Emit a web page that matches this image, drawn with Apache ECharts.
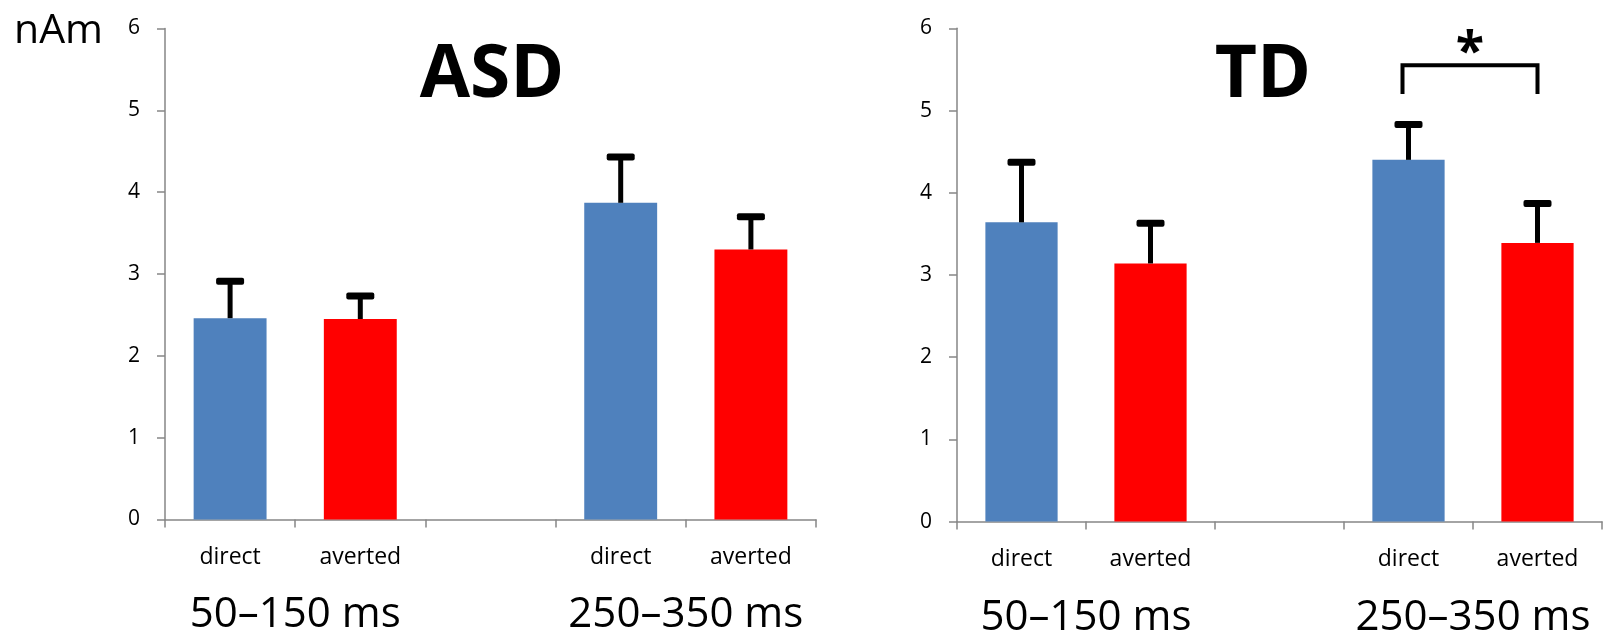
<!DOCTYPE html>
<html>
<head>
<meta charset="utf-8">
<script src="https://cdn.jsdelivr.net/npm/echarts@6/dist/echarts.min.js"></script>
<style>
html,body{margin:0;padding:0;background:#fff;}
#main{width:1604px;height:634px;}
</style>
</head>
<body>
<div id="main"></div>
<script>
// ---- data ----
var categories = ['direct', 'averted', '', 'direct', 'averted'];
var groupLabels = ['50–150 ms', '250–350 ms'];
var groupSpans = [[0, 1], [3, 4]];
var yTicks = [0, 1, 2, 3, 4, 5, 6];
var asdMeans = [2.46, 2.45, null, 3.87, 3.30];
var asdErrors = [0.45, 0.28, null, 0.56, 0.40];
var tdMeans = [3.64, 3.14, null, 4.40, 3.39];
var tdErrors = [0.73, 0.49, null, 0.43, 0.48];
var panelTitles = ['ASD', 'TD'];
var sigPair = [3, 4];        // categories compared in TD panel
var sigLevels = [5.2, 5.55]; // bracket bottom / top (nAm)
var sigMark = ['*'];
var unitLabel = 'nAm';

var colorFor = {direct: '#4F81BD', averted: '#FF0000'};
var FONT = '"Open Sans", "Liberation Sans", sans-serif';

var chart = echarts.init(document.getElementById('main'), null, {renderer: 'canvas'});

function barData(means) {
  return means.map(function (v, i) {
    if (v === null) return '-';
    return {value: v, itemStyle: {color: colorFor[categories[i]]}};
  });
}
function errData(means, errs) {
  var out = [];
  means.forEach(function (v, i) {
    if (v !== null) out.push([i, v, v + errs[i]]);
  });
  return out;
}
function errRender(params, api) {
  var base = api.coord([api.value(0), api.value(1)]);
  var top = api.coord([api.value(0), api.value(2)]);
  var capW = 28, capH = 7;
  return {
    type: 'group',
    children: [
      {type: 'line', shape: {x1: base[0], y1: base[1], x2: top[0], y2: top[1]},
       style: {stroke: '#000', lineWidth: 5}},
      {type: 'rect', shape: {x: top[0] - capW / 2, y: top[1] - capH / 2, width: capW, height: capH, r: 2},
       style: {fill: '#000'}}
    ]
  };
}
function groupRender(params, api) {
  var a = api.coord([api.value(0), 0]);
  var b = api.coord([api.value(1), 0]);
  return {
    type: 'text',
    x: (a[0] + b[0]) / 2, y: a[1] + 96,
    style: {text: groupLabels[params.dataIndex], fill: '#000', font: '42px ' + FONT,
            align: 'center', verticalAlign: 'middle'}
  };
}
function bracketRender(params, api) {
  var l = api.coord([api.value(0), api.value(2)]);
  var r = api.coord([api.value(1), api.value(3)]);
  var lx = l[0] - 6, rx = r[0];
  var yLow = l[1], yHigh = r[1];
  return {
    type: 'group',
    children: [
      {type: 'polyline', shape: {points: [[lx, yLow], [lx, yHigh], [rx, yHigh], [rx, yLow]]},
       style: {stroke: '#000', lineWidth: 4, fill: null}},
      {type: 'text', x: (lx + rx) / 2, y: yHigh - 11,
       style: {text: sigMark[0], fill: '#000', font: 'bold 52px ' + FONT, align: 'center', verticalAlign: 'middle'}}
    ]
  };
}

function xAxisCfg(gi) {
  return {
    type: 'category', gridIndex: gi, data: categories,
    axisLine: {lineStyle: {color: '#868686', width: 1.5}},
    axisTick: {show: true, length: 8, interval: 0, lineStyle: {color: '#868686', width: 1.5}},
    axisLabel: {interval: 0, color: '#000', fontSize: 23, fontFamily: FONT, margin: 26}
  };
}
function yAxisCfg(gi) {
  return {
    type: 'value', gridIndex: gi, min: yTicks[0], max: yTicks[yTicks.length - 1], interval: 1,
    axisLine: {show: true, lineStyle: {color: '#868686', width: 1.5}},
    axisTick: {show: true, length: 8, lineStyle: {color: '#868686', width: 1.5}},
    splitLine: {show: false},
    axisLabel: {color: '#000', fontSize: 21, fontFamily: FONT, margin: 25}
  };
}

var option = {
  backgroundColor: '#fff',
  animation: false,
  grid: [
    {left: 165, top: 28.5, width: 651, height: 491},
    {left: 957, top: 28.3, width: 645, height: 493.3}
  ],
  xAxis: [xAxisCfg(0), xAxisCfg(1)],
  yAxis: [yAxisCfg(0), yAxisCfg(1)],
  graphic: [
    {type: 'text', left: 14, top: 11, style: {text: unitLabel, fill: '#000', font: '41px ' + FONT}},
    {type: 'text', x: 492, y: 76, style: {text: panelTitles[0], fill: '#000', font: 'bold 73px ' + FONT, align: 'center', verticalAlign: 'middle'}},
    {type: 'text', x: 1263, y: 76, style: {text: panelTitles[1], fill: '#000', font: 'bold 73px ' + FONT, align: 'center', verticalAlign: 'middle'}}
  ],
  series: [
    {type: 'bar', xAxisIndex: 0, yAxisIndex: 0, barWidth: '56%', data: barData(asdMeans)},
    {type: 'bar', xAxisIndex: 1, yAxisIndex: 1, barWidth: '56%', data: barData(tdMeans)},
    {type: 'custom', xAxisIndex: 0, yAxisIndex: 0, renderItem: errRender, data: errData(asdMeans, asdErrors), z: 5},
    {type: 'custom', xAxisIndex: 1, yAxisIndex: 1, renderItem: errRender, data: errData(tdMeans, tdErrors), z: 5},
    {type: 'custom', xAxisIndex: 0, yAxisIndex: 0, renderItem: groupRender, data: groupSpans, clip: false},
    {type: 'custom', xAxisIndex: 1, yAxisIndex: 1, renderItem: groupRender, data: groupSpans, clip: false},
    {type: 'custom', xAxisIndex: 1, yAxisIndex: 1, renderItem: bracketRender, clip: false,
     data: [[sigPair[0], sigPair[1], sigLevels[0], sigLevels[1]]]}
  ]
};
chart.setOption(option);
</script>
</body>
</html>
